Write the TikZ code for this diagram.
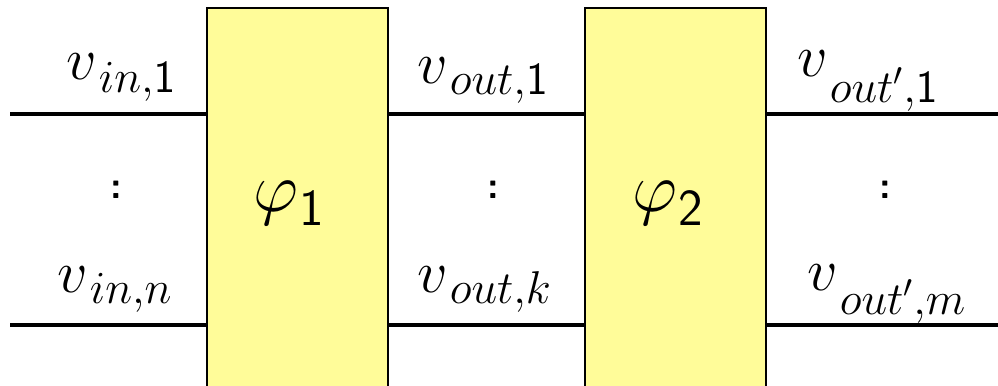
\RequirePackage{fix-cm}
\documentclass[tikz,border=0pt]{standalone}
\definecolor{boxyellow}{HTML}{FFFC99}
\tikzset{
  x=0.5pt, y=-0.5pt,
  fbox/.style={draw=black, line width=1.2pt, fill=boxyellow, anchor=north west,
    minimum width=90.5pt, minimum height=210pt, inner sep=0pt, outer sep=0pt},
  wire/.style={line width=1.6pt},
  lab/.style={anchor=base west, inner sep=0pt, font=\fontsize{30}{36}\selectfont},
  fun/.style={anchor=base west, inner sep=0pt, font=\fontsize{35}{42}\selectfont},
  dots/.style={inner sep=0pt, font=\fontsize{19}{22}\selectfont\bfseries\sffamily}
}
% v with a subscript dropped by #1
\newcommand\vlab[2]{$v$\kern1pt\lower#1\hbox{\fontsize{23}{27}\selectfont$#2$}}
\newcommand\philab[1]{$\varphi$\kern0.5pt\lower7pt\hbox{\fontsize{26}{30}\selectfont$\mathsf{#1}$}}
\begin{document}
\begin{tikzpicture}
\useasboundingbox (0,0) rectangle (998,386);
\clip (0,0) rectangle (998,386);
\node[fbox] (b1) at (207,8) {};
\node[fbox] (b2) at (585,8) {};
\coordinate (l1) at (10,114);
\coordinate (ln) at (10,325);
\coordinate (r1) at (998,114);
\coordinate (rn) at (998,325);
\draw[wire] (l1) -- (l1 -| b1.west);
\draw[wire] (ln) -- (ln -| b1.west);
\draw[wire] (l1 -| b1.east) -- (l1 -| b2.west);
\draw[wire] (ln -| b1.east) -- (ln -| b2.west);
\draw[wire] (r1 -| b2.east) -- (r1);
\draw[wire] (rn -| b2.east) -- (rn);
\node[fun] (p1) at (253,211) {\philab{1}};
\node[fun] (p2) at (632,211) {\philab{2}};
\node[lab] (a1) at (66,79) {\vlab{6.5pt}{in{,}\mathsf{1}}};
\node[lab] (an) at (57,292) {\vlab{5.5pt}{in{,}n}};
\node[lab] (m1) at (417,83) {\vlab{5.5pt}{out{,}\mathsf{1}}};
\node[lab] (mk) at (417,292) {\vlab{5.5pt}{out{,}k}};
\node[lab] (o1) at (797,76) {\vlab{13pt}{out'{,}\mathsf{1}}};
\node[lab] (om) at (807,290) {\vlab{12pt}{out'{,}m}};
\node[dots] (d1) at (116,190) {:};
\node[dots] (d2) at (493,190) {:};
\node[dots] (d3) at (885,190) {:};
\end{tikzpicture}
\end{document}
